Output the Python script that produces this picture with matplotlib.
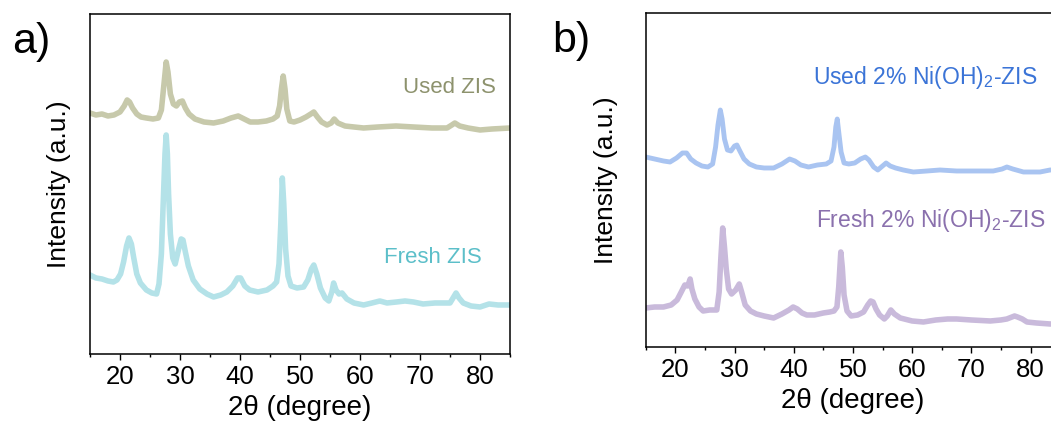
import matplotlib
matplotlib.use("Agg")
import matplotlib.pyplot as plt
from matplotlib.ticker import MultipleLocator

plt.rcParams['font.family'] = ['Liberation Sans', 'DejaVu Sans']
plt.rcParams['mathtext.fontset'] = 'custom'
plt.rcParams['mathtext.rm'] = 'Liberation Sans'
plt.rcParams['mathtext.it'] = 'Liberation Sans'

# ---- Panel a data (2theta, intensity a.u.) ----
used_zis_x = [15, 16, 17, 18, 19, 20, 20.7, 21.2, 21.6, 22.1, 22.8, 23.5, 24.4, 25.5, 26.4,
              26.9, 27.3, 27.7, 28.0, 28.4, 28.9, 29.4, 29.9, 30.4, 30.9, 31.5, 32.5, 34,
              35.6, 37.2, 38.5, 39.7, 40.7, 41.7, 43, 44.4, 45.5, 46.2, 46.6, 46.9, 47.2,
              47.5, 47.8, 48.3, 49, 50, 51, 51.8, 52.3, 52.9, 53.6, 54.5, 55.2, 55.7, 56.3,
              57.5, 59, 60.6, 63, 66, 68.9, 72, 74.5, 75.3, 75.8, 76.6, 78, 80, 82, 85]
used_zis_y = [241, 239, 240, 238, 239, 242, 248, 254, 252, 246, 240, 237, 236, 235, 236,
              244, 268, 292, 282, 260, 250, 248, 252, 253, 246, 240, 235, 232,
              231, 233, 236, 238, 235, 232, 232, 233, 235, 238, 248, 265, 278,
              265, 245, 233, 232, 234, 237, 240, 242, 237, 232, 229, 231, 235, 231,
              228, 227, 226, 227, 228, 227, 226, 226, 229, 231, 228, 226, 224, 225, 226]

fresh_zis_x = [15, 16, 17, 18, 18.9, 19.5, 20.1, 20.6, 21.1, 21.5, 21.9, 22.3, 22.8, 23.4,
               24.4, 25.3, 26.1, 26.5, 26.9, 27.2, 27.5, 27.7, 27.9, 28.1, 28.4, 28.8, 29.2,
               29.7, 30.2, 30.5, 30.9, 31.4, 32.2, 33.3, 34.5, 35.6, 36.8, 37.8, 38.8, 39.6,
               40.1, 40.8, 41.6, 43, 44.5, 45.5, 46.1, 46.5, 46.8, 47.05, 47.3, 47.6, 48,
               48.5, 49.5, 50.6, 51.3, 51.9, 52.3, 52.8, 53.4, 54.2, 54.8, 55.3, 55.6, 56,
               56.5, 57, 57.8, 59, 60.6, 62, 63.3, 64.5, 66.1, 67.5, 68.9, 70.5, 72.5, 75,
               75.6, 76, 76.5, 77.2, 78.5, 80, 81.5, 83, 85]
fresh_zis_y = [79, 76, 75, 73, 72, 74, 80, 92, 108, 116, 110, 96, 80, 71,
               64, 61, 60, 70, 100, 150, 200, 219, 200, 160, 120, 96, 90,
               103, 115, 114, 102, 88, 74, 65, 60, 57, 59, 62, 68, 76,
               76, 68, 64, 62, 64, 68, 72, 90, 130, 176, 150, 105, 78,
               68, 66, 67, 74, 85, 89, 80, 66, 56, 53, 62, 71, 64,
               60, 61, 55, 51, 49, 51, 53, 51, 52, 53, 52, 50, 51, 51,
               57, 61, 56, 51, 48, 47, 50, 49, 49]

# ---- Panel b data ----
used_ni_x = [15, 16.5, 18, 19.1, 20.2, 21.2, 21.9, 22.6, 23.5, 24.5, 25.5, 26.3, 26.8, 27.2,
             27.6, 27.9, 28.3, 28.8, 29.4, 30.0, 30.4, 30.9, 31.6, 32.5, 33.7, 35, 36.6, 38,
             39.3, 40.2, 41.2, 42.5, 44, 45.5, 46.3, 46.8, 47.1, 47.35, 47.6, 48, 48.5,
             49.3, 50.3, 51.3, 52.1, 52.7, 53.5, 54.2, 55, 55.6, 56.3, 57.2, 58.5, 60.2,
             62.5, 64.7, 67.5, 70.3, 73.7, 75.2, 76, 77, 78.8, 81.6, 83.3, 85]
used_ni_y = [190, 188, 186, 185, 189, 194, 194, 188, 184, 181, 180, 183, 200, 222,
             237, 228, 208, 197, 196, 201, 202, 196, 188, 183, 180, 179, 179, 183,
             188, 186, 182, 180, 182, 183, 186, 200, 220, 228, 215, 195, 184,
             183, 184, 188, 190, 187, 180, 177, 181, 184, 181, 179, 177, 175,
             176, 177, 176, 176, 176, 178, 180, 178, 175, 175, 177, 177]

fresh_ni_x = [15, 16.5, 18, 19.3, 20.3, 21.0, 21.6, 22.1, 22.5, 22.8, 23.3, 24, 24.7, 25.8,
              27, 27.4, 27.7, 28.0, 28.3, 28.6, 29.0, 29.5, 30.2, 30.8, 31.2, 31.8, 32.7,
              33.7, 35, 36.6, 38, 39.2, 39.9, 40.6, 41.4, 42.2, 43.5, 45, 46.1, 46.8, 47.3,
              47.6, 47.95, 48.2, 48.5, 49, 49.7, 50.8, 51.8, 52.5, 53, 53.4, 53.9, 54.5,
              55.3, 55.8, 56.4, 57, 58, 60, 61.9, 64, 66, 67.5, 70, 73.2, 75, 76, 77.3,
              77.8, 78.6, 79.4, 81, 83.3, 85]
fresh_ni_y = [39, 40, 40, 42, 47, 55, 62, 61, 68, 58, 48, 40, 36, 37,
              37, 55, 90, 119, 100, 78, 58, 53, 57, 63, 55, 42, 36,
              33, 31, 29, 33, 37, 40, 38, 34, 32, 32, 34, 35, 36, 40,
              60, 95, 80, 52, 36, 31, 32, 35, 42, 46, 45, 38, 32,
              28, 31, 37, 33, 29, 26, 25, 27, 28, 28, 27, 26, 27, 28, 31,
              30, 28, 25, 24, 23, 23]

xticks_major = [20, 30, 40, 50, 60, 70, 80]

fig = plt.figure(figsize=(10.51, 4.32), dpi=100)
axa = fig.add_axes([0.0856, 0.1806, 0.3997, 0.7870])
axb = fig.add_axes([0.6144, 0.1968, 0.3943, 0.7731])

def style(ax, ylim, labelpad):
    ax.set_xlim(15, 85)
    ax.set_ylim(*ylim)
    ax.set_xticks(xticks_major)
    ax.xaxis.set_minor_locator(MultipleLocator(5))
    ax.set_yticks([])
    ax.tick_params(axis='x', which='major', direction='out', length=4.5, width=1,
                   labelsize=18.5, pad=3.5)
    ax.tick_params(axis='x', which='minor', direction='out', length=2.5, width=1)
    for s in ax.spines.values():
        s.set_linewidth(1.1)
    ax.set_xlabel('2θ (degree)', fontsize=20, labelpad=4)
    ax.set_ylabel('Intensity (a.u.)', fontsize=19, labelpad=labelpad)

axa.plot(used_zis_x, used_zis_y, color='#c7c9ab', lw=4, solid_joinstyle='round')
axa.plot(fresh_zis_x, fresh_zis_y, color='#b4e2e8', lw=4, solid_joinstyle='round')
style(axa, (0, 340), 14)
axa.text(0.966, 0.785, 'Used ZIS', transform=axa.transAxes, ha='right', va='center',
         fontsize=16, color='#8d926d')
axa.text(0.933, 0.283, 'Fresh ZIS', transform=axa.transAxes, ha='right', va='center',
         fontsize=16, color='#5cbfc9')

axb.plot(used_ni_x, used_ni_y, color='#a9c4f1', lw=3.5, solid_joinstyle='round')
axb.plot(fresh_ni_x, fresh_ni_y, color='#c9badb', lw=4, solid_joinstyle='round')
style(axb, (0, 334), 20)
axb.text(0.945, 0.808, 'Used 2% Ni(OH)$_2$-ZIS', transform=axb.transAxes, ha='right',
         va='center', fontsize=16.5, color='#3b74d7')
axb.text(0.965, 0.38, 'Fresh 2% Ni(OH)$_2$-ZIS', transform=axb.transAxes, ha='right',
         va='center', fontsize=16.5, color='#8a70ad')

fig.text(12 / 1051, 1 - 42 / 432, 'a)', fontsize=31, va='center', ha='left')
fig.text(552 / 1051, 1 - 41 / 432, 'b)', fontsize=31, va='center', ha='left')

fig.savefig('out.png', dpi=100)
